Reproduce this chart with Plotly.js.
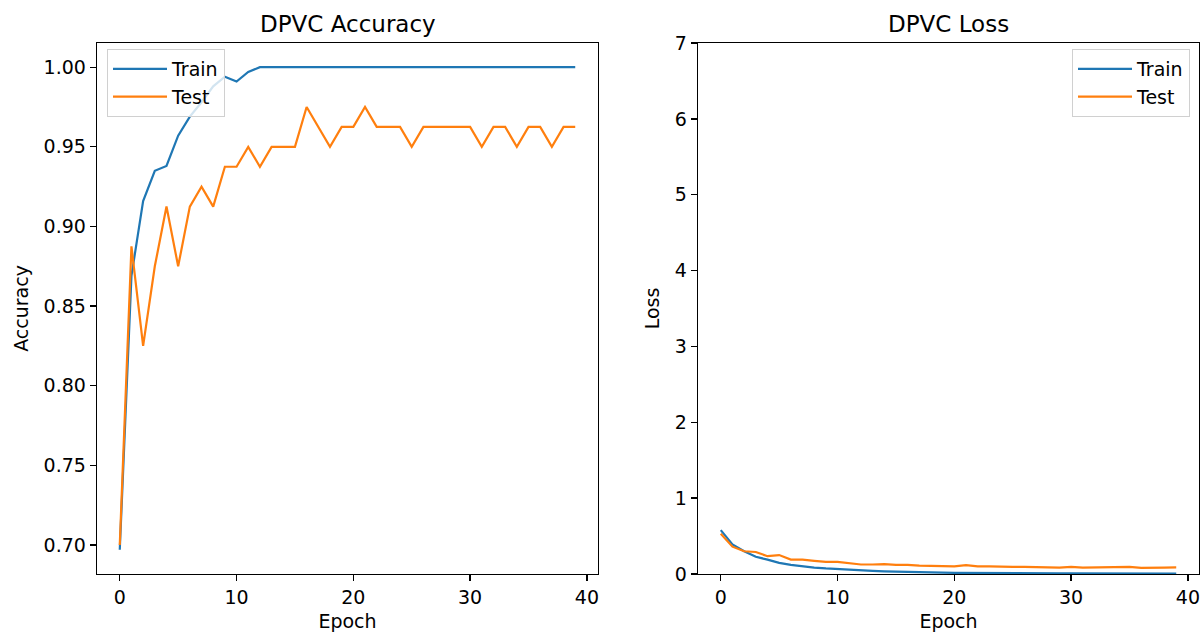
<!DOCTYPE html>
<html>
<head>
<meta charset="utf-8">
<script src="https://cdn.plot.ly/plotly-3.0.1.min.js"></script>
<style>html,body{margin:0;padding:0;background:#fff;}#chart{width:1202px;height:632px;}</style>
</head>
<body>
<div id="chart"></div>
<script>
const epochs = Array.from({length: 40}, (_, i) => i);
const trainAcc = [0.697, 0.869, 0.916, 0.935, 0.938, 0.957, 0.969, 0.978, 0.988, 0.994,
  0.991, 0.997, 1.0, 1.0, 1.0, 1.0, 1.0, 1.0, 1.0, 1.0,
  1.0, 1.0, 1.0, 1.0, 1.0, 1.0, 1.0, 1.0, 1.0, 1.0,
  1.0, 1.0, 1.0, 1.0, 1.0, 1.0, 1.0, 1.0, 1.0, 1.0];
const testAcc = [0.70, 0.8875, 0.825, 0.875, 0.9125, 0.875, 0.9125, 0.925, 0.9125, 0.9375,
  0.9375, 0.95, 0.9375, 0.95, 0.95, 0.95, 0.975, 0.9625, 0.95, 0.9625,
  0.9625, 0.975, 0.9625, 0.9625, 0.9625, 0.95, 0.9625, 0.9625, 0.9625, 0.9625,
  0.9625, 0.95, 0.9625, 0.9625, 0.95, 0.9625, 0.9625, 0.95, 0.9625, 0.9625];
const trainLoss = [0.578, 0.39, 0.30, 0.227, 0.19, 0.147, 0.12, 0.10, 0.085, 0.073,
  0.063, 0.055, 0.046, 0.04, 0.035, 0.03, 0.026, 0.023, 0.02, 0.018,
  0.016, 0.014, 0.013, 0.012, 0.011, 0.010, 0.009, 0.0085, 0.008, 0.0075,
  0.007, 0.0065, 0.006, 0.0058, 0.0055, 0.0052, 0.005, 0.0048, 0.0046, 0.0044];
const testLoss = [0.53, 0.36, 0.30, 0.29, 0.235, 0.25, 0.19, 0.19, 0.174, 0.16,
  0.16, 0.143, 0.125, 0.125, 0.13, 0.12, 0.12, 0.11, 0.105, 0.105,
  0.10, 0.116, 0.10, 0.10, 0.095, 0.095, 0.095, 0.095, 0.087, 0.085,
  0.095, 0.083, 0.085, 0.085, 0.088, 0.095, 0.082, 0.08, 0.085, 0.088];
const seriesNames = ['Train', 'Test'];
const colors = ['#1f77b4', '#ff7f0e'];

const FONT = 'DejaVu Sans, sans-serif';
const FS = 19;
const W = 1202, H = 632;
const lw = 2.2;

const traces = [
  {x: epochs, y: trainAcc, name: seriesNames[0], type: 'scatter', mode: 'lines', line: {color: colors[0], width: lw}, xaxis: 'x', yaxis: 'y', legend: 'legend'},
  {x: epochs, y: testAcc, name: seriesNames[1], type: 'scatter', mode: 'lines', line: {color: colors[1], width: lw}, xaxis: 'x', yaxis: 'y', legend: 'legend'},
  {x: epochs, y: trainLoss, name: seriesNames[0], type: 'scatter', mode: 'lines', line: {color: colors[0], width: lw}, xaxis: 'x2', yaxis: 'y2', legend: 'legend2'},
  {x: epochs, y: testLoss, name: seriesNames[1], type: 'scatter', mode: 'lines', line: {color: colors[1], width: lw}, xaxis: 'x2', yaxis: 'y2', legend: 'legend2'}
];

const axisCommon = {
  showline: true, mirror: true, linecolor: '#000', linewidth: 1.3,
  ticks: 'outside', ticklen: 6, tickwidth: 1.3, tickcolor: '#000',
  showgrid: false, zeroline: false,
  tickfont: {family: FONT, size: FS, color: '#000'}
};

const leftX = [97, 598], rightX = [698, 1199];
const topY = 43, botY = 574;
const ydom = [(H - botY) / H, (H - topY) / H];

const legendCommon = {
  bgcolor: 'rgba(255,255,255,0.8)', bordercolor: '#d0d0d0', borderwidth: 1,
  font: {family: FONT, size: FS, color: '#000'}, tracegroupgap: 0, itemwidth: 54
};

const layout = {
  width: W, height: H,
  margin: {l: 0, r: 0, t: 0, b: 0},
  paper_bgcolor: '#fff', plot_bgcolor: '#fff',
  font: {family: FONT, size: FS, color: '#000'},
  showlegend: true,
  xaxis: Object.assign({}, axisCommon, {
    domain: [leftX[0] / W, leftX[1] / W], range: [-1.95, 40.95],
    tickvals: [0, 10, 20, 30, 40], anchor: 'y',
    title: {text: 'Epoch', font: {family: FONT, size: FS}, standoff: 9}
  }),
  yaxis: Object.assign({}, axisCommon, {
    domain: ydom, range: [0.6818, 1.0152],
    tickvals: [0.70, 0.75, 0.80, 0.85, 0.90, 0.95, 1.00], tickformat: '.2f', anchor: 'x',
    title: {text: 'Accuracy', font: {family: FONT, size: FS}, standoff: 10}
  }),
  xaxis2: Object.assign({}, axisCommon, {
    domain: [rightX[0] / W, rightX[1] / W], range: [-1.95, 40.95],
    tickvals: [0, 10, 20, 30, 40], anchor: 'y2',
    title: {text: 'Epoch', font: {family: FONT, size: FS}, standoff: 9}
  }),
  yaxis2: Object.assign({}, axisCommon, {
    domain: ydom, range: [0, 7],
    tickvals: [0, 1, 2, 3, 4, 5, 6, 7], anchor: 'x2',
    title: {text: 'Loss', font: {family: FONT, size: FS}, standoff: 10}
  }),
  legend: Object.assign({}, legendCommon, {
    x: 107 / W, y: (H - 49) / H, xanchor: 'left', yanchor: 'top'
  }),
  legend2: Object.assign({}, legendCommon, {
    x: 1190 / W, y: (H - 49) / H, xanchor: 'right', yanchor: 'top'
  }),
  annotations: [
    {text: 'DPVC Accuracy', xref: 'paper', yref: 'paper', x: (leftX[0] + leftX[1]) / 2 / W, y: (H - 24) / H,
     xanchor: 'center', yanchor: 'middle', showarrow: false, font: {family: FONT, size: 23, color: '#000'}},
    {text: 'DPVC Loss', xref: 'paper', yref: 'paper', x: (rightX[0] + rightX[1]) / 2 / W, y: (H - 24) / H,
     xanchor: 'center', yanchor: 'middle', showarrow: false, font: {family: FONT, size: 23, color: '#000'}}
  ]
};

Plotly.newPlot('chart', traces, layout, {displayModeBar: false, staticPlot: true});
</script>
</body>
</html>
